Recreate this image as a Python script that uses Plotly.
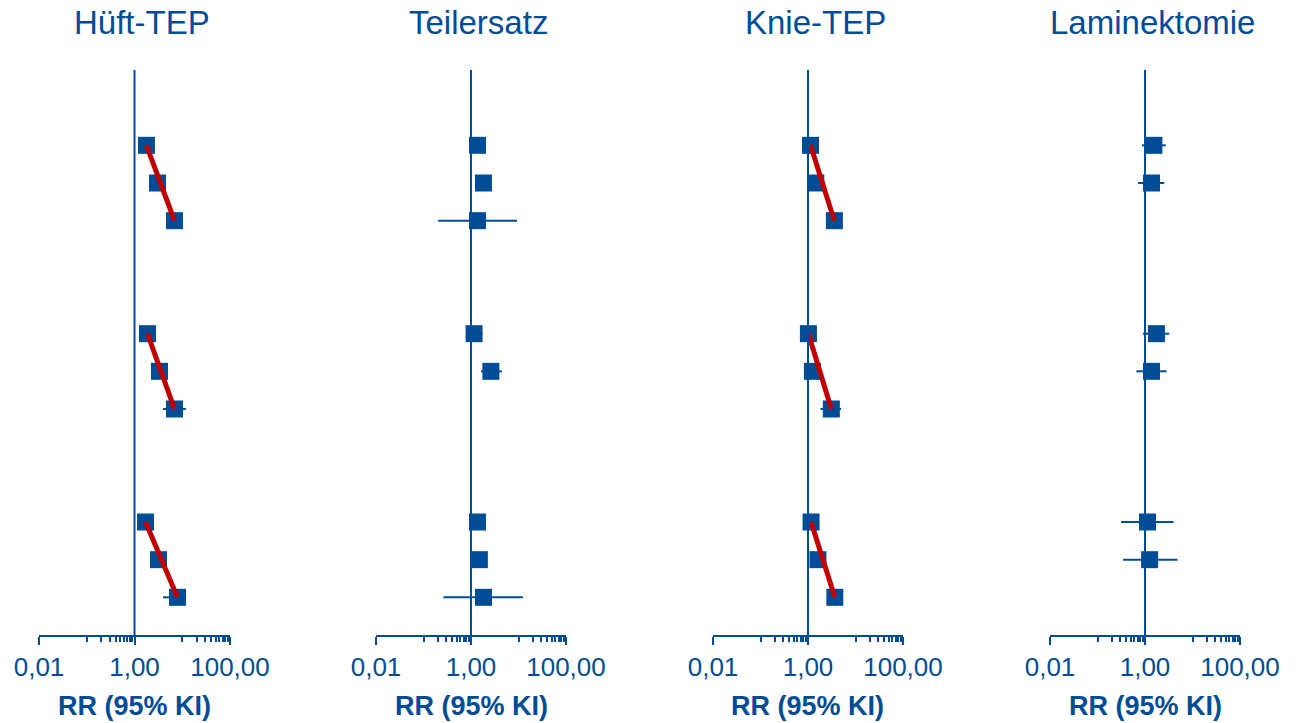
import plotly.graph_objects as go

# ---------------- data ----------------
panel_titles = ["Hüft-TEP", "Teilersatz", "Knie-TEP", "Laminektomie"]

hueft_rows = [0, 1, 2, 5, 6, 7, 10, 11, 12]
hueft_rr = [1.78, 3.03, 6.88, 1.87, 3.34, 6.88, 1.70, 3.18, 7.95]
hueft_lo = [1.60, 2.80, 6.30, 1.70, 3.10, 3.95, 1.55, 2.90, 3.95]
hueft_hi = [2.00, 3.30, 7.50, 2.05, 3.60, 11.9, 1.85, 3.50, 11.0]

teil_rows = [0, 1, 2, 5, 6, 10, 11, 12]
teil_rr = [1.37, 1.83, 1.37, 1.16, 2.62, 1.37, 1.50, 1.83]
teil_lo = [1.25, 1.65, 0.204, 0.85, 1.62, 1.25, 1.35, 0.263]
teil_hi = [1.55, 2.05, 9.33, 1.75, 4.47, 1.55, 1.70, 12.4]

knie_rows = [0, 1, 2, 5, 6, 7, 10, 11, 12]
knie_rr = [1.13, 1.46, 3.59, 1.02, 1.24, 3.10, 1.16, 1.62, 3.67]
knie_lo = [1.00, 1.30, 3.20, 0.92, 1.10, 1.84, 1.05, 1.45, 3.20]
knie_hi = [1.28, 1.65, 4.00, 1.15, 1.40, 4.97, 1.30, 1.80, 4.10]

lamin_rows = [0, 1, 5, 6, 10, 11]
lamin_rr = [1.54, 1.37, 1.74, 1.37, 1.13, 1.25]
lamin_lo = [0.865, 0.714, 0.908, 0.657, 0.314, 0.346]
lamin_hi = [2.75, 2.54, 3.23, 2.84, 3.99, 4.84]

# trend lines (first -> third estimate of each group)
hueft_trend_groups = [(0, 2), (3, 5), (6, 8)]
knie_trend_groups = [(0, 2), (3, 5), (6, 8)]

tick_vals = [0.01, 1, 100]
tick_text = ["0,01", "1,00", "100,00"]
minor_vals = [0.1, 0.2, 0.3, 0.4, 0.5, 0.6, 0.7, 0.8, 0.9,
              10, 20, 30, 40, 50, 60, 70, 80, 90]
axis_title = "RR (95% KI)"

# ---------------- style ----------------
BLUE = "#004C97"
RED = "#C00000"
FONT = "Arial, Liberation Sans, sans-serif"
W, H = 1301, 723
panel_px = [(39, 230), (376, 566), (713, 903), (1050, 1240)]
y_top_px, y_bot_px = 70, 635

panels = [
    (hueft_rows, hueft_rr, hueft_lo, hueft_hi, hueft_trend_groups),
    (teil_rows, teil_rr, teil_lo, teil_hi, []),
    (knie_rows, knie_rr, knie_lo, knie_hi, knie_trend_groups),
    (lamin_rows, lamin_rr, lamin_lo, lamin_hi, []),
]

fig = go.Figure()
annotations = []
shapes = []
layout_axes = {}

for i, (rows, rr, lo, hi, trends) in enumerate(panels):
    n = i + 1
    xa = "x" if n == 1 else f"x{n}"
    ya = "y" if n == 1 else f"y{n}"
    fig.add_trace(go.Scatter(
        x=rr, y=rows, xaxis=xa, yaxis=ya, mode="markers",
        marker=dict(symbol="square", size=17, color=BLUE),
        error_x=dict(type="data", symmetric=False,
                     array=[h - r for h, r in zip(hi, rr)],
                     arrayminus=[r - l for r, l in zip(rr, lo)],
                     color=BLUE, thickness=2, width=0),
        showlegend=False, hoverinfo="skip"))
    for a, b in trends:
        fig.add_trace(go.Scatter(
            x=[rr[a], rr[b]], y=[rows[a], rows[b]], xaxis=xa, yaxis=ya,
            mode="lines", line=dict(color=RED, width=5),
            showlegend=False, hoverinfo="skip"))
    x0, x1 = panel_px[i]
    dom = [x0 / W, x1 / W]
    ydom = [1 - y_bot_px / H, 1 - y_top_px / H]
    key = "" if n == 1 else str(n)
    layout_axes[f"xaxis{key}"] = dict(
        domain=dom, anchor=ya, type="log", range=[-2, 2], automargin=False,
        showgrid=False, zeroline=False, showline=True,
        linecolor=BLUE, linewidth=2,
        ticks="outside", ticklen=8, tickwidth=2, tickcolor=BLUE,
        tickvals=tick_vals, ticktext=tick_text,
        tickfont=dict(family=FONT, size=26, color=BLUE),
        minor=dict(tickvals=minor_vals, ticks="outside", ticklen=5,
                   tickwidth=1.5, tickcolor=BLUE, showgrid=False),
        fixedrange=True)
    layout_axes[f"yaxis{key}"] = dict(
        domain=ydom, anchor=xa, range=[13, -2], visible=False, automargin=False,
        showgrid=False, zeroline=False, fixedrange=True)
    shapes.append(dict(type="line", xref=xa, yref=f"{ya} domain",
                       x0=1, x1=1, y0=0, y1=1,
                       line=dict(color=BLUE, width=2)))
    cx = (x0 + x1) / 2
    annotations.append(dict(text=panel_titles[i], xref="paper", yref="paper",
                            x=(cx + 7.5) / W, y=1 - 22 / H,
                            xanchor="center", yanchor="middle", showarrow=False,
                            font=dict(family=FONT, size=33, color=BLUE)))
    annotations.append(dict(text=f"<b>{axis_title}</b>", xref="paper", yref="paper",
                            x=cx / W, y=1 - 706 / H,
                            xanchor="center", yanchor="middle", showarrow=False,
                            font=dict(family=FONT, size=27, color=BLUE)))

fig.update_layout(width=W, height=H, margin=dict(l=0, r=0, t=0, b=0, autoexpand=False),
                  paper_bgcolor="white", plot_bgcolor="white",
                  shapes=shapes, annotations=annotations, **layout_axes)

fig.write_html("out.html", config={"displayModeBar": False},
               post_script="document.body.style.margin='0';")
